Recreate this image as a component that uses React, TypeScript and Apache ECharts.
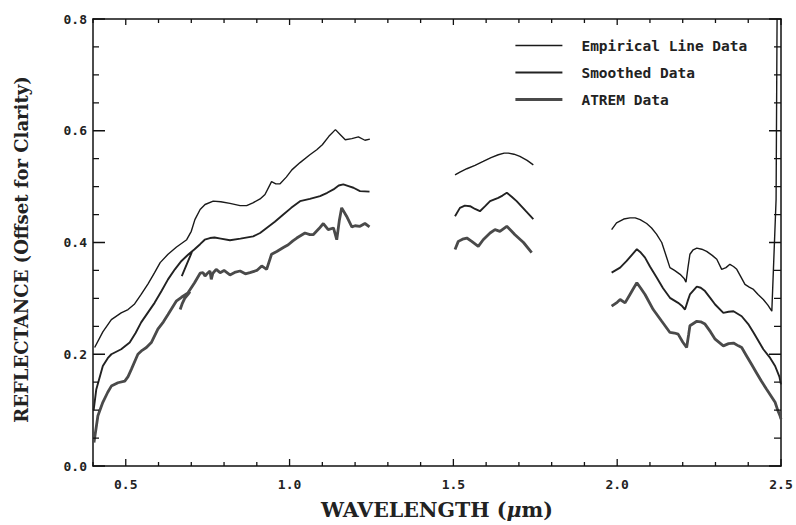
import React, { useEffect, useRef } from "react";
import * as echarts from "echarts";

type Pt = [number, number];

const seriesNames = ["Empirical Line Data", "Smoothed Data", "ATREM Data"];
const xTickValues = [0.4, 0.5, 0.6, 0.7, 0.8, 0.9, 1.0, 1.1, 1.2, 1.3, 1.4, 1.5, 1.6, 1.7, 1.8, 1.9, 2.0, 2.1, 2.2, 2.3, 2.4, 2.5];
const yTickValues = [0, 0.05, 0.1, 0.15, 0.2, 0.25, 0.3, 0.35, 0.4, 0.45, 0.5, 0.55, 0.6, 0.65, 0.7, 0.75, 0.8];

const empiricalVis: Pt[] = [[0.405,0.212],[0.43,0.24],[0.456,0.262],[0.486,0.274],[0.507,0.28],[0.527,0.29],[0.547,0.307],[0.568,0.326],[0.588,0.346],[0.605,0.364],[0.629,0.379],[0.655,0.392],[0.686,0.405],[0.70,0.42],[0.711,0.441],[0.727,0.459],[0.742,0.468],[0.767,0.474],[0.79,0.473],[0.818,0.470],[0.849,0.466],[0.869,0.466],[0.888,0.471],[0.91,0.478],[0.925,0.486],[0.945,0.509],[0.958,0.505],[0.971,0.505],[0.99,0.517],[1.007,0.53],[1.032,0.543],[1.062,0.557],[1.083,0.566],[1.10,0.575],[1.12,0.59],[1.14,0.602],[1.155,0.593],[1.17,0.584],[1.19,0.586],[1.21,0.589],[1.23,0.583],[1.245,0.585]];
const empiricalSwir1: Pt[] = [[1.505,0.521],[1.52,0.526],[1.541,0.532],[1.566,0.538],[1.591,0.545],[1.615,0.552],[1.637,0.557],[1.655,0.56],[1.668,0.56],[1.685,0.558],[1.703,0.554],[1.725,0.547],[1.744,0.539]];
const empiricalSwir2: Pt[] = [[1.983,0.423],[1.998,0.435],[2.02,0.442],[2.039,0.444],[2.055,0.444],[2.07,0.441],[2.09,0.434],[2.105,0.426],[2.12,0.415],[2.136,0.40],[2.15,0.375],[2.161,0.355],[2.175,0.35],[2.192,0.343],[2.205,0.335],[2.21,0.329],[2.216,0.355],[2.222,0.379],[2.232,0.387],[2.243,0.39],[2.258,0.388],[2.273,0.384],[2.29,0.377],[2.304,0.37],[2.319,0.352],[2.332,0.355],[2.344,0.361],[2.355,0.357],[2.365,0.352],[2.378,0.338],[2.39,0.325],[2.403,0.32],[2.416,0.316],[2.43,0.307],[2.446,0.298],[2.46,0.288],[2.472,0.277],[2.485,0.477],[2.488,0.8]];

const smoothedVis: Pt[] = [[0.402,0.10],[0.41,0.137],[0.43,0.179],[0.445,0.193],[0.456,0.20],[0.486,0.209],[0.512,0.221],[0.53,0.238],[0.547,0.257],[0.568,0.275],[0.588,0.292],[0.61,0.314],[0.629,0.334],[0.65,0.352],[0.67,0.367],[0.69,0.378],[0.71,0.388],[0.727,0.397],[0.741,0.405],[0.757,0.408],[0.771,0.409],[0.79,0.407],[0.818,0.404],[0.85,0.407],[0.889,0.411],[0.91,0.417],[0.93,0.426],[0.955,0.437],[0.981,0.45],[1.005,0.462],[1.032,0.474],[1.062,0.478],[1.093,0.483],[1.115,0.489],[1.134,0.495],[1.15,0.502],[1.164,0.504],[1.18,0.501],[1.195,0.498],[1.215,0.492],[1.244,0.491]];
const smoothedHook: Pt[] = [[0.671,0.34],[0.686,0.361],[0.702,0.383]];
const smoothedSwir1: Pt[] = [[1.505,0.447],[1.52,0.462],[1.535,0.466],[1.551,0.465],[1.566,0.46],[1.581,0.456],[1.597,0.465],[1.612,0.474],[1.637,0.48],[1.65,0.484],[1.663,0.489],[1.678,0.482],[1.693,0.474],[1.72,0.457],[1.744,0.442]];
const smoothedSwir2: Pt[] = [[1.983,0.346],[2.009,0.355],[2.029,0.367],[2.045,0.378],[2.06,0.388],[2.072,0.382],[2.085,0.373],[2.10,0.357],[2.121,0.337],[2.14,0.318],[2.161,0.301],[2.186,0.292],[2.197,0.287],[2.207,0.28],[2.215,0.295],[2.222,0.307],[2.243,0.321],[2.255,0.319],[2.268,0.313],[2.285,0.3],[2.299,0.289],[2.324,0.274],[2.34,0.276],[2.355,0.277],[2.38,0.268],[2.40,0.254],[2.416,0.239],[2.446,0.209],[2.465,0.195],[2.482,0.179],[2.495,0.16],[2.5,0.146]];

const atremVis: Pt[] = [[0.403,0.042],[0.415,0.09],[0.43,0.114],[0.445,0.132],[0.456,0.143],[0.476,0.149],[0.497,0.152],[0.507,0.16],[0.517,0.173],[0.537,0.20],[0.55,0.207],[0.563,0.212],[0.578,0.221],[0.598,0.245],[0.615,0.258],[0.629,0.271],[0.654,0.295],[0.67,0.302],[0.69,0.31],[0.71,0.328],[0.727,0.345],[0.736,0.346],[0.742,0.34],[0.748,0.344],[0.757,0.349],[0.761,0.334],[0.766,0.345],[0.776,0.352],[0.788,0.346],[0.80,0.35],[0.818,0.342],[0.835,0.347],[0.849,0.349],[0.865,0.344],[0.879,0.346],[0.90,0.35],[0.915,0.358],[0.93,0.352],[0.945,0.379],[0.961,0.384],[0.981,0.391],[0.996,0.396],[1.01,0.403],[1.022,0.408],[1.047,0.417],[1.062,0.414],[1.072,0.414],[1.09,0.425],[1.103,0.434],[1.118,0.423],[1.134,0.426],[1.144,0.405],[1.152,0.44],[1.159,0.462],[1.174,0.447],[1.19,0.428],[1.2,0.43],[1.215,0.429],[1.23,0.434],[1.244,0.428]];
const atremHook: Pt[] = [[0.666,0.28],[0.672,0.29],[0.68,0.30],[0.69,0.307],[0.696,0.312]];
const atremSwir1: Pt[] = [[1.505,0.3875],[1.515,0.402],[1.528,0.406],[1.541,0.408],[1.556,0.402],[1.576,0.393],[1.591,0.405],[1.612,0.417],[1.627,0.423],[1.642,0.42],[1.663,0.429],[1.675,0.422],[1.688,0.414],[1.714,0.40],[1.739,0.382]];
const atremSwir2: Pt[] = [[1.983,0.286],[2.0,0.293],[2.009,0.298],[2.024,0.292],[2.039,0.307],[2.05,0.318],[2.06,0.328],[2.072,0.318],[2.085,0.307],[2.11,0.28],[2.136,0.259],[2.161,0.239],[2.175,0.238],[2.186,0.236],[2.2,0.222],[2.212,0.212],[2.218,0.235],[2.222,0.251],[2.243,0.259],[2.255,0.258],[2.268,0.254],[2.285,0.24],[2.299,0.227],[2.324,0.215],[2.34,0.219],[2.355,0.22],[2.37,0.215],[2.38,0.212],[2.395,0.197],[2.41,0.182],[2.425,0.167],[2.44,0.152],[2.456,0.1375],[2.47,0.125],[2.482,0.114],[2.49,0.1],[2.497,0.09],[2.5,0.084]];

function joinSegments(...segs: Pt[][]) {
  const out: (Pt | [number, null])[] = [];
  segs.forEach((s, i) => {
    if (i > 0) out.push([s[0][0], null]);
    s.forEach((p) => out.push(p));
  });
  return out;
}

const mono = "'DejaVu Sans Mono', monospace";
const serif = "'DejaVu Serif', serif";
const isMultiple = (v: number, step: number) => Math.abs(v / step - Math.round(v / step)) < 1e-6;
const lineWidths = [1.4, 1.9, 2.8];
const lineColors = ["#1a1a1a", "#222", "#4a4a4a"];
const frameLine = { show: true, onZero: false, lineStyle: { color: "#111", width: 1.5 } };
const X_MIN = 0.4, X_MAX = 2.5, Y_MIN = 0, Y_MAX = 0.8;
const GRID = { left: 93, right: 15, top: 19, bottom: 55 };
const W = 796, H = 525;

// inward tick marks, placed through the chart's own scales (pixel lengths converted to data units)
function buildTicks() {
  const xPerPx = (X_MAX - X_MIN) / (W - GRID.left - GRID.right);
  const yPerPx = (Y_MAX - Y_MIN) / (H - GRID.top - GRID.bottom);
  const out: (Pt | [number, null])[] = [];
  xTickValues.forEach((v) => {
    const major = isMultiple(v, 0.5);
    const lb = (major ? 7 : 4) * yPerPx;
    const lt = (major ? 6 : 4) * yPerPx;
    out.push([v, Y_MIN], [v, Y_MIN + lb], [v, null]);
    out.push([v, Y_MAX], [v, Y_MAX - lt], [v, null]);
  });
  yTickValues.forEach((v) => {
    const major = isMultiple(v, 0.2);
    const ll = (major ? 12 : 6) * xPerPx;
    const lr = (major ? 12 : 7) * xPerPx;
    out.push([X_MIN, v], [X_MIN + ll, v], [X_MIN + ll, null]);
    out.push([X_MAX, v], [X_MAX - lr, v], [X_MAX - lr, null]);
  });
  return out;
}

export default function App() {
  const ref = useRef<HTMLDivElement>(null);
  useEffect(() => {
    if (!ref.current) return;
    const chart = echarts.init(ref.current, null, { renderer: "svg" });
    chart.setOption({
      animation: false,
      grid: GRID,
      legend: {
        orient: "vertical",
        left: 509,
        top: 33,
        itemWidth: 47,
        itemHeight: 14,
        itemGap: 12,
        data: seriesNames.map((n, i) => ({
          name: n,
          itemStyle: { color: "rgba(0,0,0,0)", borderColor: "rgba(0,0,0,0)", borderWidth: 0 },
          lineStyle: { color: lineColors[i], width: lineWidths[i] },
        })),
        textStyle: { fontFamily: mono, fontWeight: "bold", fontSize: 14.5, color: "#222", padding: [0, 0, 0, 14] },
      },
      xAxis: [
        {
          type: "value", min: X_MIN, max: X_MAX, interval: 0.1, position: "bottom",
          splitLine: { show: false },
          axisLine: frameLine,
          axisTick: { show: false },
          axisLabel: {
            show: true, margin: 12,
            formatter: (v: number) => (isMultiple(v, 0.5) ? v.toFixed(1) : ""),
            fontFamily: mono, fontWeight: "bold", fontSize: 13, color: "#222",
          },
          name: "WAVELENGTH ({i|μ}m)",
          nameLocation: "middle",
          nameGap: 33,
          nameTextStyle: {
            fontFamily: serif, fontSize: 20.5, fontWeight: "bold", color: "#222",
            rich: { i: { fontFamily: serif, fontStyle: "italic", fontWeight: "bold", fontSize: 20.5, color: "#222" } },
          },
        },
        {
          type: "value", min: X_MIN, max: X_MAX, interval: 0.1, position: "top",
          splitLine: { show: false },
          axisLine: frameLine,
          axisTick: { show: false },
          axisLabel: { show: false },
        },
      ],
      yAxis: [
        {
          type: "value", min: Y_MIN, max: Y_MAX, interval: 0.2, position: "left",
          splitLine: { show: false },
          axisLine: frameLine,
          axisTick: { show: false },
          axisLabel: {
            show: true, margin: 6, formatter: (v: number) => v.toFixed(1),
            fontFamily: mono, fontWeight: "bold", fontSize: 13, color: "#222",
          },
          name: "REFLECTANCE (Offset for Clarity)",
          nameLocation: "middle",
          nameRotate: 90,
          nameGap: 63,
          nameTextStyle: { fontFamily: serif, fontWeight: "bold", fontSize: 18, color: "#222", padding: [0, 14, 0, 0] },
        },
        {
          type: "value", min: Y_MIN, max: Y_MAX, interval: 0.2, position: "right",
          splitLine: { show: false },
          axisLine: frameLine,
          axisTick: { show: false },
          axisLabel: { show: false },
        },
      ],
      series: [
        ...seriesNames.map((n, i) => ({
          name: n, type: "line", xAxisIndex: 0, yAxisIndex: 0,
          symbol: "none", connectNulls: false,
          lineStyle: { color: lineColors[i], width: lineWidths[i] }, itemStyle: { color: lineColors[i] },
          data: i === 0
            ? joinSegments(empiricalVis, empiricalSwir1, empiricalSwir2)
            : i === 1
            ? joinSegments(smoothedVis, smoothedHook, smoothedSwir1, smoothedSwir2)
            : joinSegments(atremVis, atremHook, atremSwir1, atremSwir2),
        })),
        {
          // shares a legend name so the legend filter keeps it visible; the legend icon comes from the first series of that name
          name: seriesNames[0], type: "line", xAxisIndex: 0, yAxisIndex: 0,
          symbol: "none", connectNulls: false, silent: true, clip: false, z: 5,
          lineStyle: { color: "#111", width: 1.3 },
          itemStyle: { color: "#111" },
          data: buildTicks(),
        },
      ],
    });
    return () => chart.dispose();
  }, []);
  return <div ref={ref} style={{ width: W, height: H, position: "absolute", left: 0, top: 0, background: "#fff" }} />;
}
